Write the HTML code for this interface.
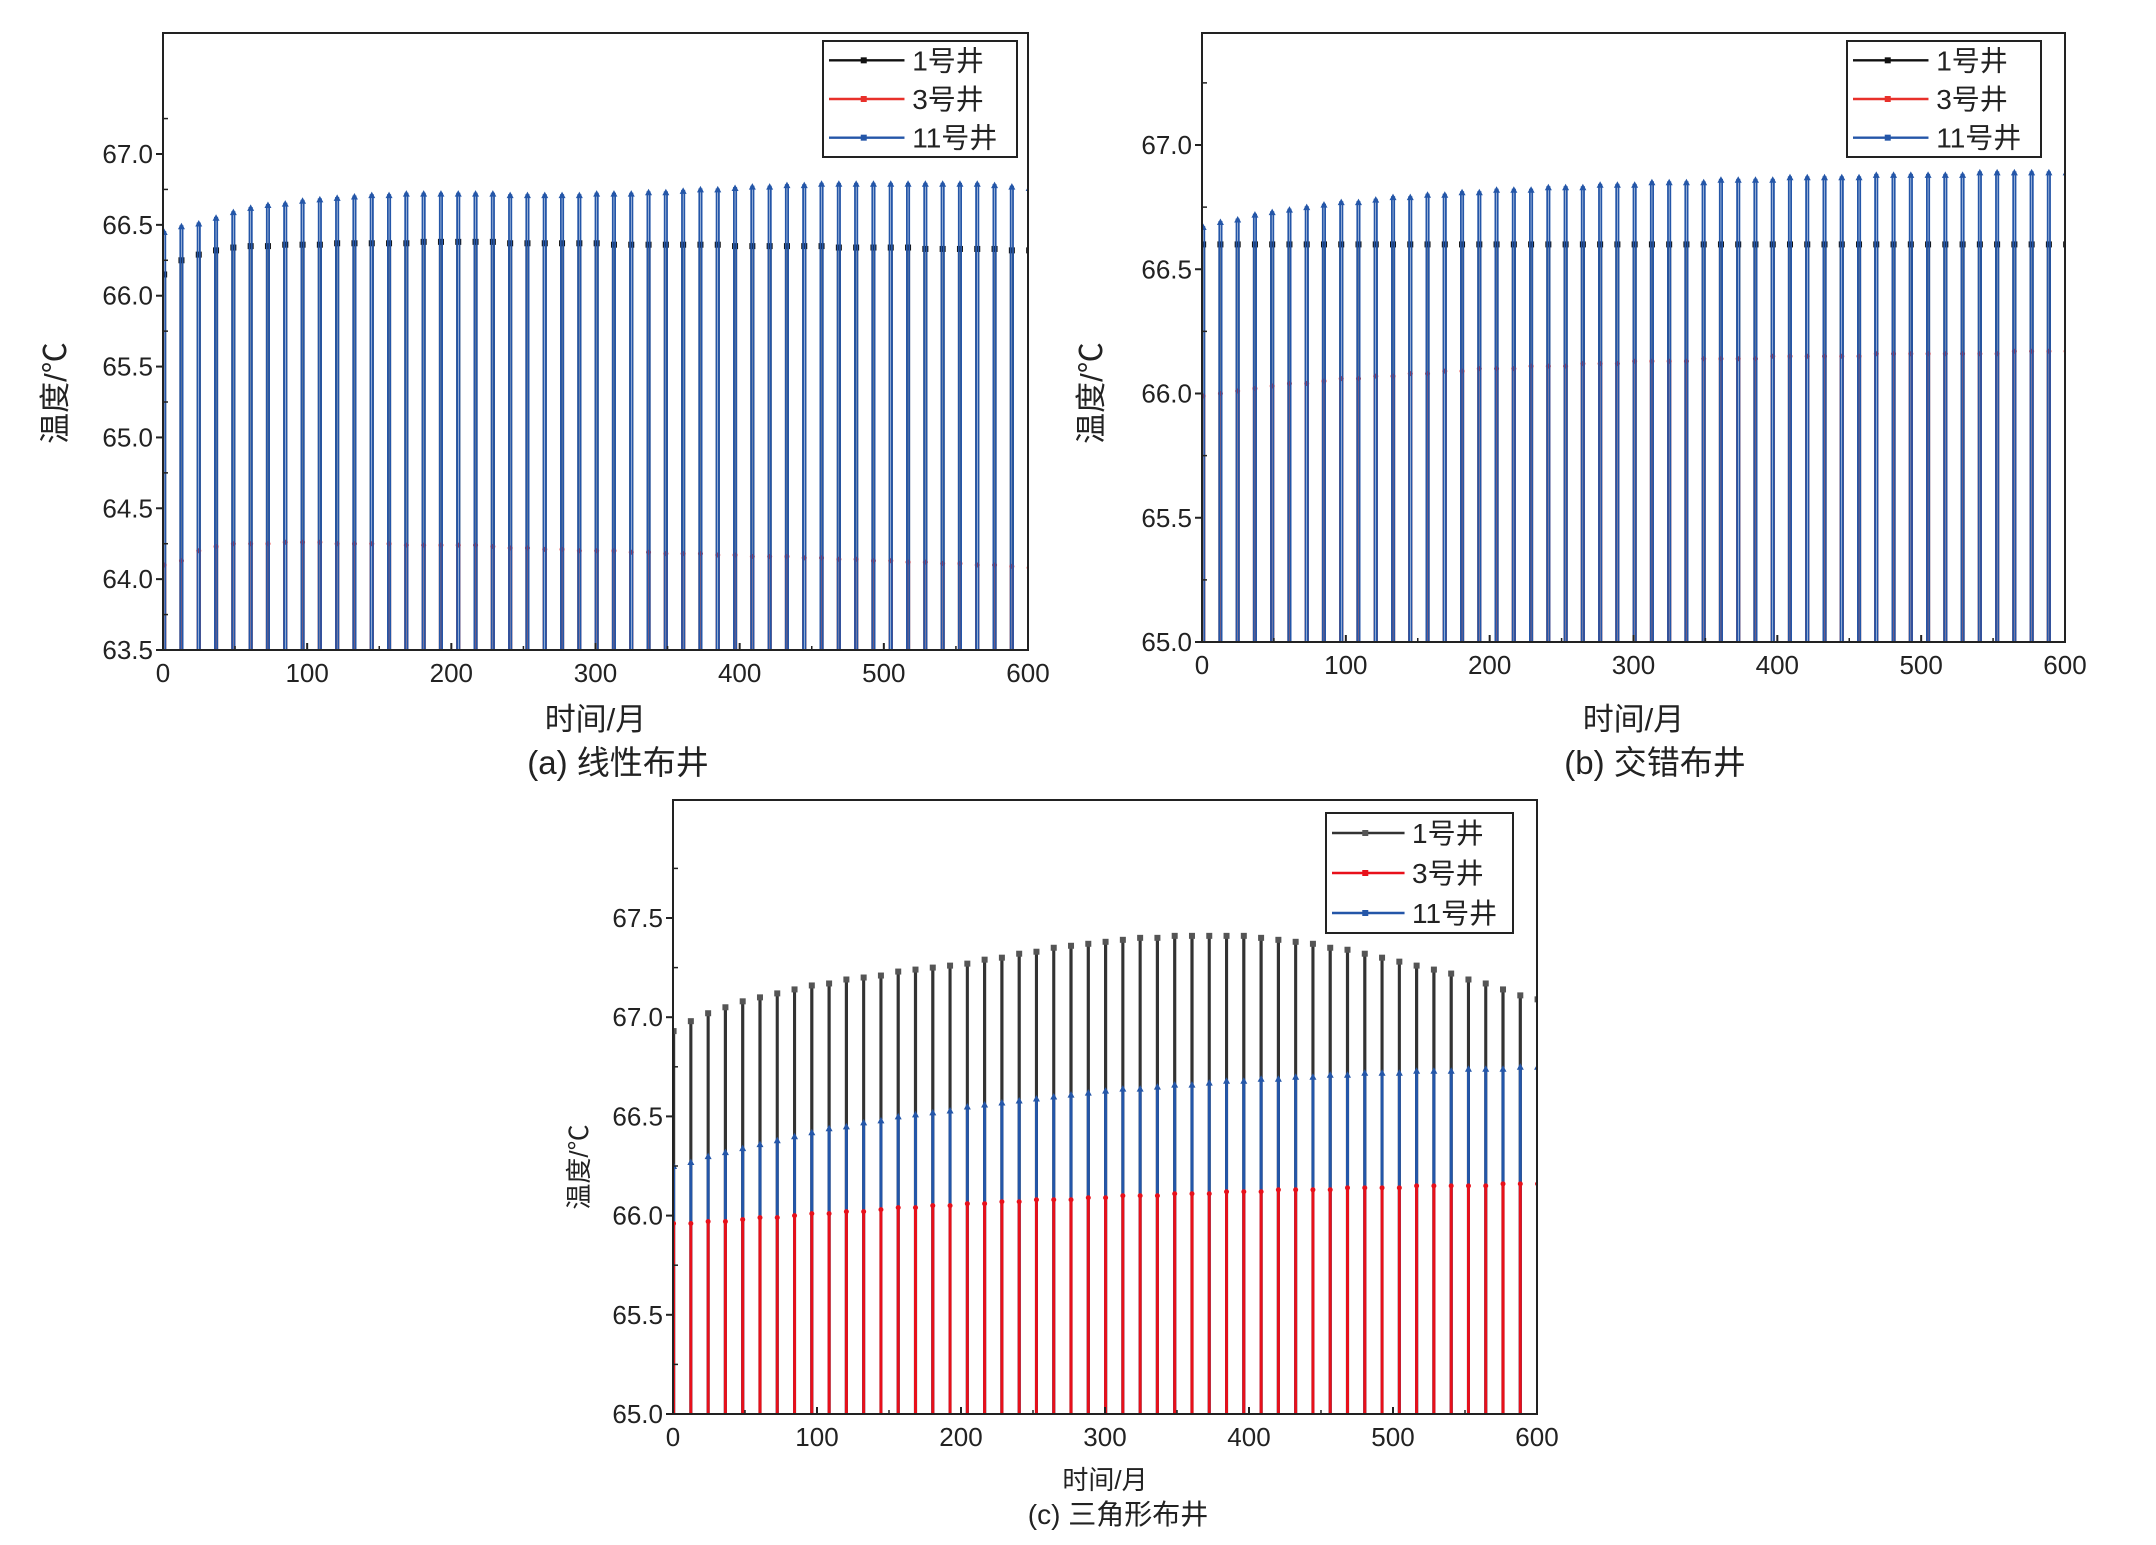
<!DOCTYPE html>
<html><head><meta charset="utf-8">
<style>
html,body{margin:0;padding:0;background:#fff;}
svg{display:block;}
text{font-family:"Liberation Sans","Noto Sans CJK SC",sans-serif;fill:#222;}
</style></head>
<body>
<svg id="fig" width="2156" height="1545" viewBox="0 0 2156 1545" xmlns="http://www.w3.org/2000/svg"></svg>
<script>
// ---- data: peak temperature per yearly cycle, months 0,12,...,600 ----
const months = Array.from({length:51},(_,i)=>i*12);
const xTicks = [0,100,200,300,400,500,600];
const yTicksA = [63.5,64.0,64.5,65.0,65.5,66.0,66.5,67.0];
const yTicksB = [65.0,65.5,66.0,66.5,67.0];
const yTicksC = [65.0,65.5,66.0,66.5,67.0,67.5];
const legendLabels = ["1号井","3号井","11号井"];

const aWell1 = [66.15,66.25,66.29,66.32,66.34,66.35,66.35,66.36,66.36,66.36,66.37,66.37,66.37,66.37,66.37,66.38,66.38,66.38,66.38,66.38,66.37,66.37,66.37,66.37,66.37,66.37,66.36,66.36,66.36,66.36,66.36,66.36,66.36,66.35,66.35,66.35,66.35,66.35,66.35,66.34,66.34,66.34,66.34,66.34,66.33,66.33,66.33,66.33,66.33,66.32,66.32];
const aWell3 = [64.10,64.13,64.20,64.23,64.25,64.25,64.25,64.26,64.26,64.26,64.25,64.25,64.25,64.25,64.24,64.24,64.24,64.24,64.24,64.23,64.22,64.22,64.21,64.21,64.20,64.20,64.20,64.19,64.19,64.18,64.18,64.18,64.17,64.17,64.16,64.16,64.16,64.15,64.15,64.14,64.14,64.13,64.13,64.12,64.12,64.11,64.11,64.10,64.10,64.09,64.08];
const aWell11 = [66.45,66.49,66.51,66.55,66.59,66.62,66.64,66.65,66.67,66.68,66.69,66.70,66.71,66.71,66.72,66.72,66.72,66.72,66.72,66.72,66.71,66.71,66.71,66.71,66.71,66.72,66.72,66.72,66.73,66.73,66.74,66.75,66.75,66.76,66.77,66.77,66.78,66.78,66.79,66.79,66.79,66.79,66.79,66.79,66.79,66.79,66.79,66.79,66.78,66.77,66.76];

const bWell1 = Array(51).fill(66.60);
const bWell3 = [65.99,66.00,66.01,66.02,66.03,66.04,66.04,66.05,66.06,66.06,66.07,66.07,66.08,66.08,66.09,66.09,66.10,66.10,66.10,66.11,66.11,66.11,66.12,66.12,66.12,66.13,66.13,66.13,66.13,66.14,66.14,66.14,66.14,66.15,66.15,66.15,66.15,66.15,66.15,66.16,66.16,66.16,66.16,66.16,66.16,66.16,66.16,66.17,66.17,66.17,66.17];
const bWell11 = [66.67,66.69,66.70,66.72,66.73,66.74,66.75,66.76,66.77,66.77,66.78,66.79,66.79,66.80,66.80,66.81,66.81,66.82,66.82,66.82,66.83,66.83,66.83,66.84,66.84,66.84,66.85,66.85,66.85,66.85,66.86,66.86,66.86,66.86,66.87,66.87,66.87,66.87,66.87,66.88,66.88,66.88,66.88,66.88,66.88,66.89,66.89,66.89,66.89,66.89,66.89];

const cWell1 = [66.93,66.98,67.02,67.05,67.08,67.10,67.12,67.14,67.16,67.17,67.19,67.20,67.21,67.23,67.24,67.25,67.26,67.27,67.29,67.30,67.32,67.33,67.35,67.36,67.37,67.38,67.39,67.40,67.40,67.41,67.41,67.41,67.41,67.41,67.40,67.39,67.38,67.37,67.35,67.34,67.32,67.30,67.28,67.26,67.24,67.22,67.19,67.17,67.14,67.11,67.09];
const cWell3 = [65.96,65.96,65.97,65.97,65.98,65.99,65.99,66.00,66.01,66.01,66.02,66.02,66.03,66.04,66.04,66.05,66.05,66.06,66.06,66.07,66.07,66.08,66.08,66.08,66.09,66.09,66.10,66.10,66.10,66.11,66.11,66.11,66.12,66.12,66.12,66.13,66.13,66.13,66.13,66.14,66.14,66.14,66.14,66.15,66.15,66.15,66.15,66.15,66.16,66.16,66.16];
const cWell11 = [66.25,66.27,66.30,66.32,66.34,66.36,66.38,66.40,66.42,66.44,66.45,66.47,66.48,66.50,66.51,66.52,66.53,66.55,66.56,66.57,66.58,66.59,66.60,66.61,66.62,66.63,66.64,66.64,66.65,66.66,66.66,66.67,66.68,66.68,66.69,66.69,66.70,66.70,66.71,66.71,66.72,66.72,66.72,66.73,66.73,66.73,66.74,66.74,66.74,66.75,66.75];

const NS="http://www.w3.org/2000/svg";
const svg=document.getElementById('fig');
function mk(tag,attrs,parent){const e=document.createElementNS(NS,tag);for(const k in attrs)e.setAttribute(k,attrs[k]);(parent||svg).appendChild(e);return e;}

function panel(p){
  const g=mk('g',{});
  
  
  const X=v=>p.L+(v-0)/600*(p.R-p.L);
  const Y=v=>p.B-(v-p.ymin)/(p.yref-p.ymin)*(p.B-p.yrefPx);
  const cid='clip-'+p.name;
  const cp=mk('clipPath',{id:cid},g);mk('rect',{x:p.L,y:p.T,width:p.R-p.L,height:p.B-p.T},cp);
  const plot=mk('g',{'clip-path':'url(#'+cid+')'},g);
  p.series.forEach(s=>{
    const sg=mk('g',{},plot);
    
    
    let d='';
    months.forEach((m,i)=>{
      const x0=X(m),x1=X(m+p.w),yp=Y(s.data[i]);
      d+=`M${x0.toFixed(1)},${p.B+5}L${x0.toFixed(1)},${yp.toFixed(1)}L${x1.toFixed(1)},${yp.toFixed(1)}L${x1.toFixed(1)},${p.B+5}`;
    });
    mk('path',{d:d,fill:'none',stroke:s.color,'stroke-width':s.sw||1.8},sg);
    months.forEach((m,i)=>{
      const x=X(m+p.w/2),y=Y(s.data[i]);
      const mkr=s.marker==='sq'?mk('rect',{x:x-3,y:y-3,width:6,height:6,fill:s.mcolor},sg)
        :s.marker==='tri'?mk('path',{d:`M${x-3.5},${y+3}L${x+3.5},${y+3}L${x},${y-3.5}Z`,fill:s.mcolor},sg)
        :mk('circle',{cx:x,cy:y,r:2.5,fill:s.mcolor},sg);
      
      
    });
  });
  const frame=mk('rect',{x:p.L,y:p.T,width:p.R-p.L,height:p.B-p.T,fill:'none',stroke:'#222','stroke-width':2},g);
  
  p.yticks.forEach(v=>{
    const y=Y(v);
    mk('line',{x1:p.L-7,x2:p.L,y1:y,y2:y,stroke:'#222','stroke-width':2},g);
    const t=mk('text',{x:p.L-10,y:y+9,'text-anchor':'end','font-size':p.tfs},g);t.textContent=v.toFixed(1);
    
    const ym=Y(v+0.25);
    if(ym>p.T) mk('line',{x1:p.L,x2:p.L+5,y1:ym,y2:ym,stroke:'#222','stroke-width':1.5},g);
  });
  xTicks.forEach(v=>{
    const x=X(v);
    mk('line',{x1:x,x2:x,y1:p.B,y2:p.B-7,stroke:'#222','stroke-width':2},g);
    if(v<600) mk('line',{x1:X(v+50),x2:X(v+50),y1:p.B,y2:p.B-4,stroke:'#222','stroke-width':1.5},g);
    const t=mk('text',{x:x,y:p.B+p.tfs+6,'text-anchor':'middle','font-size':p.tfs},g);t.textContent=v;
    
  });
  const xt=mk('text',{x:(p.L+p.R)/2,y:p.xtY,'text-anchor':'middle','font-size':p.xtfs},g);xt.textContent='时间/月';
  
  const yt=mk('text',{x:0,y:0,'text-anchor':'middle','font-size':p.ytfs,transform:`translate(${p.ytX},${p.ytY}) rotate(-90)`},g);yt.textContent='温度/℃';
  
  const cap=mk('text',{x:p.capX,y:p.capY,'text-anchor':'middle','font-size':p.capfs},g);cap.textContent=p.caption;
  
  const lg=mk('g',{},g);
  
  const [lx,ly,lw,lh]=p.leg;
  mk('rect',{x:lx,y:ly,width:lw,height:lh,fill:'#fff',stroke:'#222','stroke-width':2},lg);
  p.legendSeries.forEach((s,i)=>{
    const y=ly+lh*(i+0.5)/3;
    const e=mk('g',{},lg);
    
    mk('line',{x1:lx+6,x2:lx+lw*0.42,y1:y,y2:y,stroke:s.color,'stroke-width':2.4},e);
    mk('rect',{x:lx+lw*0.21-3,y:y-3,width:6,height:6,fill:s.mcolor},e);
    const t=mk('text',{x:lx+lw*0.46,y:y+p.lfs*0.36,'font-size':p.lfs},e);t.textContent=legendLabels[i];
  });
}

const K='#111',R='#e8302a',B='#2456a8';
const sA1={name:'series-well-1',data:aWell1,color:K,mcolor:K,marker:'sq'},
      sA3={name:'series-well-3',data:aWell3,color:R,mcolor:R,marker:'c'},
      sA11={name:'series-well-11',data:aWell11,color:B,mcolor:B,marker:'tri'};
panel({name:'panel-a-linear',L:163,R:1028,T:33,B:650,ymin:63.5,yref:67.0,yrefPx:154,yticks:yTicksA,w:1.6,tfs:26,
  series:[sA1,sA3,sA11],legendSeries:[sA1,sA3,sA11],
  xtY:730,xtfs:31,ytX:66,ytY:393,ytfs:31,caption:'(a) 线性布井',capX:618,capY:774,capfs:33,leg:[823,41,194,116],lfs:28});

const sB1={name:'series-well-1',data:bWell1,color:K,mcolor:K,marker:'sq'},
      sB3={name:'series-well-3',data:bWell3,color:R,mcolor:R,marker:'c'},
      sB11={name:'series-well-11',data:bWell11,color:B,mcolor:B,marker:'tri'};
panel({name:'panel-b-staggered',L:1202,R:2065,T:33,B:642,ymin:65.0,yref:67.0,yrefPx:145,yticks:yTicksB,w:1.6,tfs:26,
  series:[sB1,sB3,sB11],legendSeries:[sB1,sB3,sB11],
  xtY:730,xtfs:31,ytX:1102,ytY:393,ytfs:31,caption:'(b) 交错布井',capX:1655,capY:774,capfs:33,leg:[1847,41,194,116],lfs:28});

const sC1={name:'series-well-1',data:cWell1,color:'#333',mcolor:'#555',marker:'sq',sw:2},
      sC3={name:'series-well-3',data:cWell3,color:'#e8101a',mcolor:'#e8101a',marker:'c'},
      sC11={name:'series-well-11',data:cWell11,color:B,mcolor:B,marker:'tri'};
panel({name:'panel-c-triangle',L:673,R:1537,T:800,B:1414,ymin:65.0,yref:67.5,yrefPx:918,yticks:yTicksC,w:0.8,tfs:26,
  series:[sC1,sC11,sC3],legendSeries:[sC1,sC3,sC11],
  xtY:1489,xtfs:26,ytX:588,ytY:1167,ytfs:26,caption:'(c) 三角形布井',capX:1118,capY:1524,capfs:28,leg:[1326,813,187,120],lfs:28});
</script>
</body></html>
